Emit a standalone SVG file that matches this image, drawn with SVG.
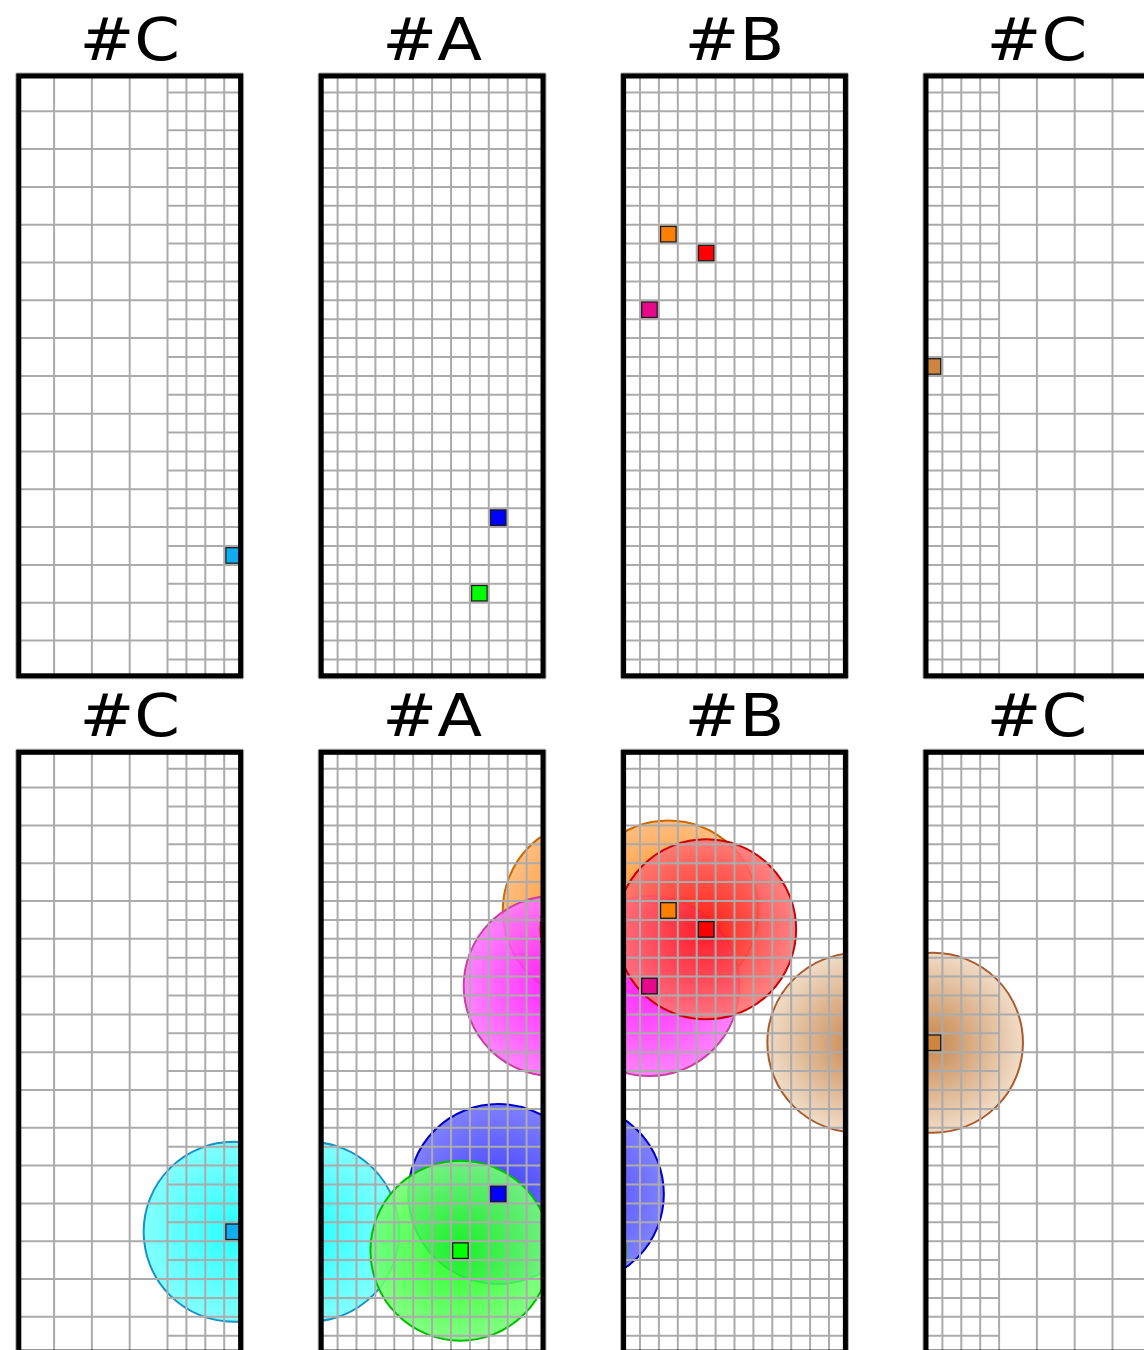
<svg xmlns="http://www.w3.org/2000/svg" xmlns:xlink="http://www.w3.org/1999/xlink" width="1144" height="1350" viewBox="0 0 1144 1350">
<style>
.grid{fill:none;stroke:#ababab;stroke-width:2}
.border{fill:none;stroke:#000;stroke-width:5}
.sq{stroke:#1a1a1a;stroke-width:1.3}
.title{font-family:"DejaVu Sans",sans-serif;font-size:59px;text-anchor:middle;fill:#000}
.ci{stroke-width:2;fill-opacity:0.9}
</style>
<defs>
<clipPath id="pc"><rect x="0" y="0" width="226.8" height="604.8"/></clipPath>
<radialGradient id="gCyan"><stop offset="0" stop-color="#10ffff"/><stop offset="1" stop-color="#75ffff"/></radialGradient>
<radialGradient id="gBlue"><stop offset="0" stop-color="#2a2aff"/><stop offset="1" stop-color="#7272ff"/></radialGradient>
<radialGradient id="gGreen"><stop offset="0" stop-color="#10ff10"/><stop offset="1" stop-color="#75ff75"/></radialGradient>
<radialGradient id="gOrange"><stop offset="0" stop-color="#ff8000"/><stop offset="1" stop-color="#ffb772"/></radialGradient>
<radialGradient id="gRed"><stop offset="0" stop-color="#ff1010"/><stop offset="1" stop-color="#ff7575"/></radialGradient>
<radialGradient id="gPink"><stop offset="0" stop-color="#ff10ff"/><stop offset="1" stop-color="#ff75ff"/></radialGradient>
<radialGradient id="gBrown"><stop offset="0" stop-color="#c27a3c"/><stop offset="1" stop-color="#efd8c0"/></radialGradient>
<path id="gridFine" class="grid" d="M0 0V604.8M18.9 0V604.8M37.8 0V604.8M56.7 0V604.8M75.6 0V604.8M94.5 0V604.8M113.4 0V604.8M132.3 0V604.8M151.2 0V604.8M170.1 0V604.8M189 0V604.8M207.9 0V604.8M226.8 0V604.8M0 0H226.8M0 18.9H226.8M0 37.8H226.8M0 56.7H226.8M0 75.6H226.8M0 94.5H226.8M0 113.4H226.8M0 132.3H226.8M0 151.2H226.8M0 170.1H226.8M0 189H226.8M0 207.9H226.8M0 226.8H226.8M0 245.7H226.8M0 264.6H226.8M0 283.5H226.8M0 302.4H226.8M0 321.3H226.8M0 340.2H226.8M0 359.1H226.8M0 378H226.8M0 396.9H226.8M0 415.8H226.8M0 434.7H226.8M0 453.6H226.8M0 472.5H226.8M0 491.4H226.8M0 510.3H226.8M0 529.2H226.8M0 548.1H226.8M0 567H226.8M0 585.9H226.8M0 604.8H226.8"/>
<path id="gridC1" class="grid" d="M0 0V604.8M37.8 0V604.8M75.6 0V604.8M113.4 0V604.8M151.2 0V604.8M170.1 0V604.8M189 0V604.8M207.9 0V604.8M226.8 0V604.8M0 0H226.8M0 37.8H226.8M0 75.6H226.8M0 113.4H226.8M0 151.2H226.8M0 189H226.8M0 226.8H226.8M0 264.6H226.8M0 302.4H226.8M0 340.2H226.8M0 378H226.8M0 415.8H226.8M0 453.6H226.8M0 491.4H226.8M0 529.2H226.8M0 567H226.8M0 604.8H226.8M151.2 18.9H226.8M151.2 56.7H226.8M151.2 94.5H226.8M151.2 132.3H226.8M151.2 170.1H226.8M151.2 207.9H226.8M151.2 245.7H226.8M151.2 283.5H226.8M151.2 321.3H226.8M151.2 359.1H226.8M151.2 396.9H226.8M151.2 434.7H226.8M151.2 472.5H226.8M151.2 510.3H226.8M151.2 548.1H226.8M151.2 585.9H226.8"/>
<path id="gridC4" class="grid" d="M0 0V604.8M18.9 0V604.8M37.8 0V604.8M56.7 0V604.8M75.6 0V604.8M113.4 0V604.8M151.2 0V604.8M189 0V604.8M226.8 0V604.8M0 0H226.8M0 37.8H226.8M0 75.6H226.8M0 113.4H226.8M0 151.2H226.8M0 189H226.8M0 226.8H226.8M0 264.6H226.8M0 302.4H226.8M0 340.2H226.8M0 378H226.8M0 415.8H226.8M0 453.6H226.8M0 491.4H226.8M0 529.2H226.8M0 567H226.8M0 604.8H226.8M0 18.9H75.6M0 56.7H75.6M0 94.5H75.6M0 132.3H75.6M0 170.1H75.6M0 207.9H75.6M0 245.7H75.6M0 283.5H75.6M0 321.3H75.6M0 359.1H75.6M0 396.9H75.6M0 434.7H75.6M0 472.5H75.6M0 510.3H75.6M0 548.1H75.6M0 585.9H75.6"/>
<rect id="frame" class="border" x="2.5" y="2.5" width="221.8" height="599.8"/>
</defs>
<rect width="1144" height="1350" fill="#fff"/>

<!-- top row -->
<g id="top-C1" transform="translate(16.3,73.5)">
<text class="title" transform="translate(113.4,-13.5) scale(1.11,1)">#C</text>
<use href="#gridC1"/>
<rect class="sq" x="209.6" y="474.2" width="15.5" height="15.5" fill="#10aef0"/>
<use href="#frame"/>
</g>
<g id="top-A" transform="translate(318.7,73.5)">
<text class="title" transform="translate(113.4,-13.5) scale(1.11,1)">#A</text>
<use href="#gridFine"/>
<rect class="sq" x="171.8" y="436.4" width="15.5" height="15.5" fill="#0000ff"/>
<rect class="sq" x="152.9" y="512" width="15.5" height="15.5" fill="#00ff00"/>
<use href="#frame"/>
</g>
<g id="top-B" transform="translate(621.1,73.5)">
<text class="title" transform="translate(113.4,-13.5) scale(1.11,1)">#B</text>
<use href="#gridFine"/>
<rect class="sq" x="39.5" y="152.9" width="15.5" height="15.5" fill="#ff8000"/>
<rect class="sq" x="77.3" y="171.8" width="15.5" height="15.5" fill="#ff0000"/>
<rect class="sq" x="20.6" y="228.5" width="15.5" height="15.5" fill="#e8088c"/>
<use href="#frame"/>
</g>
<g id="top-C2" transform="translate(923.5,73.5)">
<text class="title" transform="translate(113.4,-13.5) scale(1.11,1)">#C</text>
<use href="#gridC4"/>
<rect class="sq" x="1.7" y="285.2" width="15.5" height="15.5" fill="#cd853f"/>
<use href="#frame"/>
</g>

<!-- bottom row -->
<g id="bottom-C1" transform="translate(16.3,749.8)">
<text class="title" transform="translate(113.4,-13.5) scale(1.11,1)">#C</text>
<g clip-path="url(#pc)">
<circle class="ci" cx="217.35" cy="481.95" r="90" fill="url(#gCyan)" stroke="#1890c8"/>
</g>
<use href="#gridC1"/>
<rect class="sq" x="209.6" y="474.2" width="15.5" height="15.5" fill="#10aef0"/>
<use href="#frame"/>
</g>
<g id="bottom-A" transform="translate(318.7,749.8)">
<text class="title" transform="translate(113.4,-13.5) scale(1.11,1)">#A</text>
<g clip-path="url(#pc)">
<circle class="ci" cx="-9.45" cy="481.95" r="90" fill="url(#gCyan)" stroke="#1890c8"/>
<circle class="ci" cx="179.55" cy="444.15" r="90" fill="url(#gBlue)" stroke="#0000c8"/>
<circle class="ci" cx="141.75" cy="500.85" r="90" fill="url(#gGreen)" stroke="#00c000"/>
<circle class="ci" cx="274.05" cy="160.65" r="90" fill="url(#gOrange)" stroke="#cc6a00"/>
<circle class="ci" cx="235" cy="236.25" r="90" fill="url(#gPink)" stroke="#c8449c"/>
<circle class="ci" cx="311.85" cy="179.55" r="90" fill="url(#gRed)" stroke="#cc0000"/>
</g>
<use href="#gridFine"/>
<rect class="sq" x="171.8" y="436.4" width="15.5" height="15.5" fill="#0000ff"/>
<rect class="sq" x="134" y="493.1" width="15.5" height="15.5" fill="#00ff00"/>
<use href="#frame"/>
</g>
<g id="bottom-B" transform="translate(621.1,749.8)">
<text class="title" transform="translate(113.4,-13.5) scale(1.11,1)">#B</text>
<g clip-path="url(#pc)">
<circle class="ci" cx="-47.25" cy="444.15" r="90" fill="url(#gBlue)" stroke="#0000c8"/>
<circle class="ci" cx="-85.05" cy="500.85" r="90" fill="url(#gGreen)" stroke="#00c000"/>
<circle class="ci" cx="47.25" cy="160.65" r="90" fill="url(#gOrange)" stroke="#cc6a00"/>
<circle class="ci" cx="28.35" cy="236.25" r="90" fill="url(#gPink)" stroke="#c8449c"/>
<circle class="ci" cx="85.05" cy="179.55" r="90" fill="url(#gRed)" stroke="#cc0000"/>
<circle class="ci" cx="236.25" cy="292.95" r="90" fill="url(#gBrown)" stroke="#a85c30"/>
</g>
<use href="#gridFine"/>
<rect class="sq" x="39.5" y="152.9" width="15.5" height="15.5" fill="#ff8000"/>
<rect class="sq" x="77.3" y="171.8" width="15.5" height="15.5" fill="#ff0000"/>
<rect class="sq" x="20.6" y="228.5" width="15.5" height="15.5" fill="#e8088c"/>
<use href="#frame"/>
</g>
<g id="bottom-C2" transform="translate(923.5,749.8)">
<text class="title" transform="translate(113.4,-13.5) scale(1.11,1)">#C</text>
<g clip-path="url(#pc)">
<circle class="ci" cx="9.45" cy="292.95" r="90" fill="url(#gBrown)" stroke="#a85c30"/>
</g>
<use href="#gridC4"/>
<rect class="sq" x="1.7" y="285.2" width="15.5" height="15.5" fill="#cd853f"/>
<use href="#frame"/>
</g>
</svg>
